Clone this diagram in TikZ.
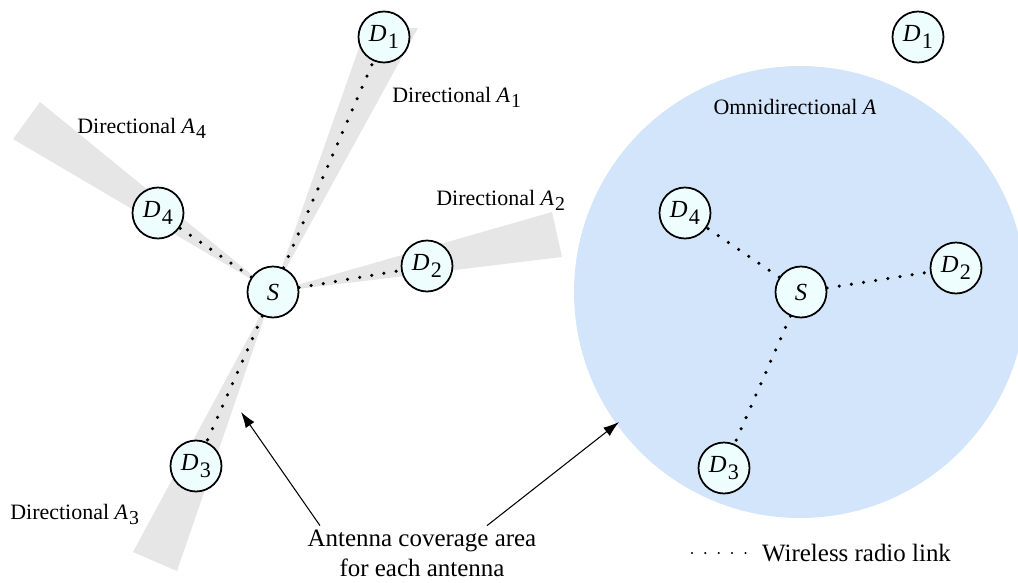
\documentclass[tikz,border=0pt]{standalone}
\usepackage{fontspec}
\setmainfont{Liberation Serif}
\usepackage{xcolor}
\usetikzlibrary{arrows.meta,positioning,calc}

\definecolor{beamgray}{HTML}{E6E6E6}
\definecolor{omniblue}{HTML}{D3E5FB}
\definecolor{devfill}{HTML}{EEFEFE}

\newcommand{\idx}[2]{\textit{#1}\kern0.05em\raisebox{-0.55ex}{\scalebox{0.9}{#2}}}

\begin{document}
\begin{tikzpicture}[x=0.02cm, y=-0.02cm,
		dev/.style={circle, draw, line width=1pt, fill=devfill, minimum size=1.02cm,
				inner sep=0pt, font=\fontsize{14}{16}\selectfont},
		beam/.style={fill=beamgray},
		omni/.style={fill=omniblue},
		link/.style={line width=2pt, line cap=round, dash pattern=on 0pt off 7pt},
		keylink/.style={line width=1.3pt, line cap=round, dash pattern=on 0pt off 7.6pt},
		label/.style={font=\fontsize{12.5}{14}\selectfont, anchor=base west, inner sep=0pt},
		note/.style={font=\fontsize{14.2}{17}\selectfont, align=center, inner sep=1pt},
		pointer/.style={-{Latex[length=9pt, width=6pt]}, line width=0.6pt}]

		\useasboundingbox (0,0) rectangle (1018,582);
		\clip (0,0) rectangle (1018,582);

		% ── directional beams ──
		\fill[beam] (273,292) -- (366,28) -- (418,28) -- cycle;
		\fill[beam] (273,292) -- (552,212) -- (562,257) -- cycle;
		\fill[beam] (273,292) -- (177,571) -- (133,552) -- cycle;
		\fill[beam] (273,292) -- (13,139) -- (40,102) -- cycle;

		% ── omnidirectional coverage ──
		\fill[omni] (800,292) circle (226);

		% ── directional antennas ──
		\node[dev] (ls) at (273,292) {\textit{S}};
		\node[dev] (ld1) at (384,37) {\idx{D}{1}};
		\node[dev] (ld2) at (427,266) {\idx{D}{2}};
		\node[dev] (ld3) at (196,466) {\idx{D}{3}};
		\node[dev] (ld4) at (158,213) {\idx{D}{4}};

		\draw[link] (ls) -- (ld1);
		\draw[link] (ls) -- (ld2);
		\draw[link] (ls) -- (ld3);
		\draw[link] (ls) -- (ld4);

		\node[label] at (392,102) {Directional \idx{A}{1}};
		\node[label] at (436,205) {Directional \idx{A}{2}};
		\node[label] at (10,519) {Directional \idx{A}{3}};
		\node[label] at (77,133) {Directional \idx{A}{4}};

		% ── omnidirectional antenna ──
		\node[dev] (rs) at (801,292) {\textit{S}};
		\node[dev] (rd1) at (918,37) {\idx{D}{1}};
		\node[dev] (rd2) at (956,268) {\idx{D}{2}};
		\node[dev] (rd3) at (724,468) {\idx{D}{3}};
		\node[dev] (rd4) at (685,213) {\idx{D}{4}};

		\draw[link] (rs) -- (rd2);
		\draw[link] (rs) -- (rd3);
		\draw[link] (rs) -- (rd4);

		\node[label, anchor=base] at (795,114) {Omnidirectional \textit{A}};

		% ── coverage note ──
		\node[note] (cover) at (422,553) {Antenna coverage area\\for each antenna};
		\coordinate (beamtip) at (241,412);
		\coordinate (omnitip) at (619,422);
		\draw[pointer] ($(cover.north)+(-102,-2)$) -- (beamtip);
		\draw[pointer] ($(cover.north)+(65,-2)$) -- (omnitip);

		% ── key ──
		\node[note, anchor=west] (key) at (760,553) {Wireless radio link};
		\coordinate (keystart) at (692,553);
		\draw[keylink] (keystart) -- ($(key.west)+(-8,0)$);

	\end{tikzpicture}
\end{document}
